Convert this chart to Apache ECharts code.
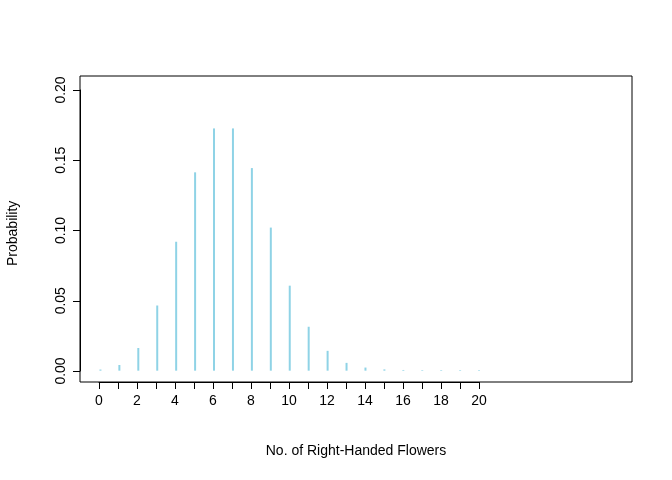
<!DOCTYPE html>
<html><head><meta charset="utf-8">
<script src="https://cdn.jsdelivr.net/npm/echarts@6/dist/echarts.min.js"></script>
<style>body{margin:0}#c{width:672px;height:480px}</style></head>
<body><div id="c"></div>
<script>
var flowers = [0,1,2,3,4,5,6,7,8,9,10,11,12,13,14,15,16,17,18,19,20];
var probs = [0.0008,0.004,0.016,0.046,0.091,0.140,0.171,0.171,0.143,0.101,0.060,0.031,0.014,0.0055,0.0022,0.0009,0.0005,0.0004,0.0004,0.0004,0.0004];

var chart = echarts.init(document.getElementById('c'));
var font = 'Liberation Sans, Arial, sans-serif';
var option = {
    animation: false,
    grid: [
        {left: 80, right: 40, top: 76, bottom: 98, show: true, borderColor: '#000', borderWidth: 1},
        {left: 99, right: 193, top: 76, bottom: 98},
        {left: 80, right: 40, top: 90, bottom: 109}
    ],
    xAxis: [
        {gridIndex: 0, type: 'value', min: -1.08, max: 28.08, show: false},
        {gridIndex: 1, type: 'value', min: 0, max: 20, interval: 1,
         axisLine: {show: true, lineStyle: {color: '#000'}},
         axisTick: {show: true, inside: false, length: 7, lineStyle: {color: '#000'}},
         splitLine: {show: false},
         axisLabel: {margin: 12, fontSize: 14, color: '#000', fontFamily: font,
            formatter: function (v) { return v % 2 === 0 ? v : ''; }}},
        {gridIndex: 2, type: 'value', show: false}
    ],
    yAxis: [
        {gridIndex: 0, type: 'value', min: -0.008, max: 0.208, show: false},
        {gridIndex: 1, type: 'value', show: false},
        {gridIndex: 2, type: 'value', min: 0, max: 0.2, interval: 0.05,
         axisLine: {show: true, lineStyle: {color: '#000'}},
         axisTick: {show: true, length: 7, lineStyle: {color: '#000'}},
         splitLine: {show: false},
         axisLabel: {rotate: 90, margin: 12, fontSize: 14, color: '#000', fontFamily: font,
            formatter: function (v) { return v.toFixed(2); }}}
    ],
    series: [{
        type: 'bar', xAxisIndex: 0, yAxisIndex: 0, barWidth: 2,
        itemStyle: {color: '#8fd3e6'},
        data: flowers.map(function (f, i) { return [f, probs[i]]; })
    }],
    graphic: [
        {type: 'text', x: 356, y: 451, style: {text: 'No. of Right-Handed Flowers', align: 'center', verticalAlign: 'middle', fontSize: 14, fontFamily: font, fill: '#000'}},
        {type: 'text', x: 6, y: 266, rotation: Math.PI / 2, style: {text: 'Probability', fontSize: 14, fontFamily: font, fill: '#000'}}
    ]
};
chart.setOption(option);
</script></body></html>
